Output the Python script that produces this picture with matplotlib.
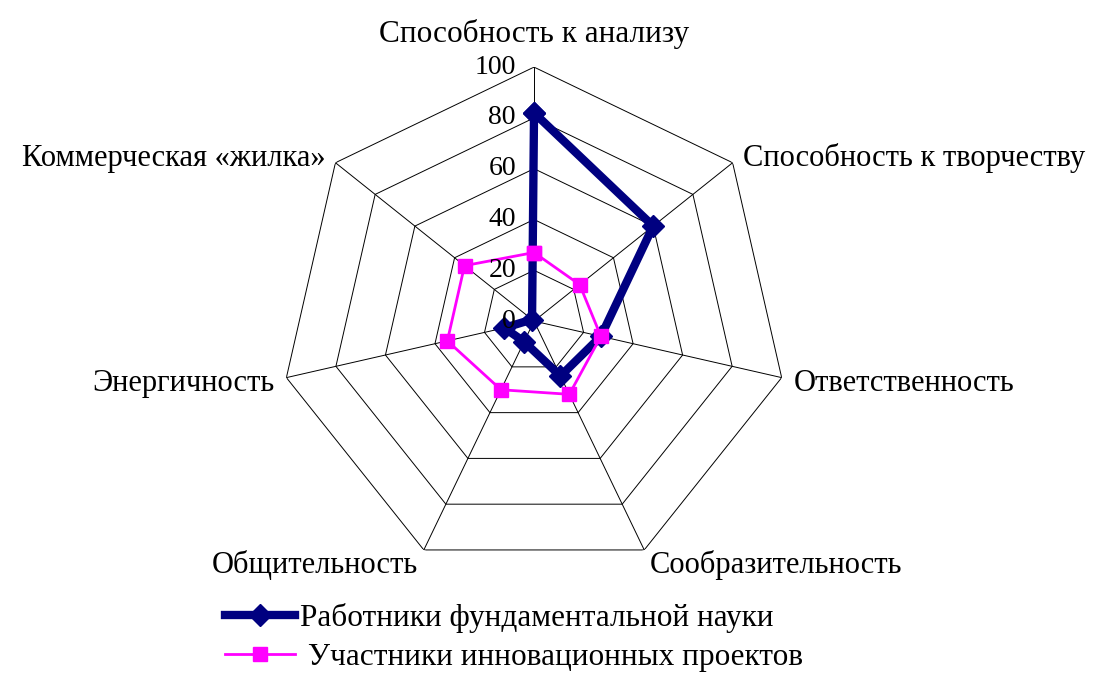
import numpy as np
import matplotlib.pyplot as plt

plt.rcParams['font.family'] = ['Liberation Serif', 'DejaVu Serif']

categories = [
    'Способность к анализу',
    'Способность к творчеству',
    'Ответственность',
    'Сообразительность',
    'Общительность',
    'Энергичность',
    'Коммерческая «жилка»',
]
fundamental = [82, 60, 27, 24, 9, 12, 1]
innovation = [27, 23, 27, 32, 30, 35, 35]
rings = [20, 40, 60, 80, 100]
tick_labels = ['0', '20', '40', '60', '80', '100']
series_names = ['Работники фундаментальной науки', ' Участники инновационных проектов']

n = len(categories)
angles = np.linspace(0, 2 * np.pi, n, endpoint=False)
closed = np.append(angles, angles[0])


def close(vals):
    return np.append(vals, vals[0])


fig = plt.figure(figsize=(10.95, 6.75), dpi=100)
ax = fig.add_axes([0.2557, 0.148, 0.464, 0.7526], projection='polar')
ax.set_theta_offset(np.pi / 2)
ax.set_theta_direction(-1)
ax.set_ylim(0, 100)
ax.grid(False)
ax.spines['polar'].set_visible(False)
ax.set_xticks([])
ax.set_yticks([])

# heptagon grid
for r in rings:
    ax.plot(closed, [r] * (n + 1), color='black', lw=0.7, zorder=1)
for a in angles:
    ax.plot([a, a], [0, 100], color='black', lw=0.7, zorder=1)

ax.plot(closed, close(fundamental), color='#000080', lw=6, marker='D',
        ms=11, label=series_names[0], zorder=3, clip_on=False)
ax.plot(closed, close(innovation), color='#FF00FF', lw=2, marker='s',
        ms=10, label=series_names[1], zorder=4, clip_on=False)

# radial tick labels
for v, t in zip([0] + rings, tick_labels):
    ax.annotate(t, xy=(0, v), xytext=(-13, 0), textcoords='offset points',
                ha='right', va='center', fontsize=20, zorder=5)

# category labels
for a, c in zip(angles, categories):
    s = np.sin(a)
    if abs(s) < 1e-6:
        ax.text(a, 107, c, ha='center', va='bottom', fontsize=22.5)
    else:
        ax.text(a, 105, c, ha='left' if s > 0 else 'right',
                va='center_baseline', fontsize=22)

fig.legend(loc='upper left', bbox_to_anchor=(0.2055, 0.107), frameon=False,
           fontsize=22.5, handlelength=2.25, handletextpad=0.15,
           labelspacing=0.32, borderpad=0, borderaxespad=0)

fig.savefig('out.png', dpi=100, facecolor='white')
